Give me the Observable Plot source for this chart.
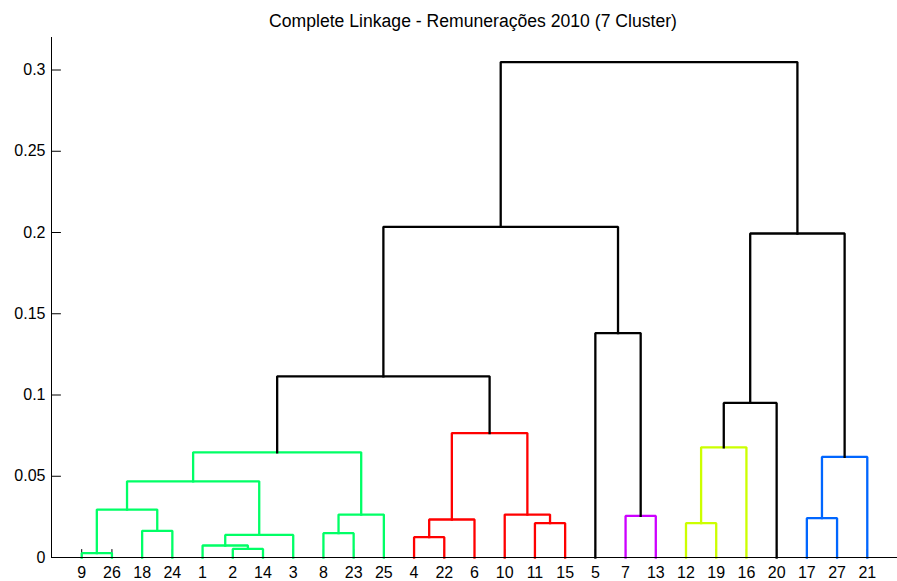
<!DOCTYPE html>
<html>
<head>
<meta charset="utf-8">
<script src="https://cdn.jsdelivr.net/npm/d3@7"></script>
<script src="https://cdn.jsdelivr.net/npm/@observablehq/plot@0.6"></script>
<style>
  html, body { margin: 0; padding: 0; background: #fff; overflow: hidden; }
  #wrap { position: relative; width: 897px; height: 581px; overflow: hidden; background: #fff; }
  #title {
    position: absolute; top: 12.8px; left: 473px; transform: translateX(-50%);
    white-space: nowrap; font-family: "Liberation Sans", Arial, Helvetica, sans-serif;
    font-size: 17.6px; line-height: 17.6px; color: #000;
  }
  #chart svg { display: block; }
</style>
</head>
<body>
<div id="wrap">
  <div id="chart"></div>
  <div id="title">Complete Linkage - Remunerações 2010 (7 Cluster)</div>
</div>
<script>
// Leaf labels in dendrogram order (left to right)
const leafOrder = [9, 26, 18, 24, 1, 2, 14, 3, 8, 23, 25, 4, 22, 6, 10, 11, 15, 5, 7, 13, 12, 19, 16, 20, 17, 27, 21];

// Linkage (MATLAB style): internal node ids are 28, 29, ... in merge order
const mergeLeft   = [9, 2, 1, 4, 3, 8, 18, 11, 12, 6, 17, 7, 10, 25, 28, 42, 21, 43, 16, 37, 20, 45, 5, 48, 49, 52];
const mergeRight  = [26, 14, 29, 22, 30, 23, 24, 15, 19, 31, 27, 13, 35, 33, 34, 32, 38, 41, 36, 40, 46, 47, 39, 44, 50, 51];
const mergeHeight = [0.0027, 0.0053, 0.0074, 0.0125, 0.0139, 0.0150, 0.0164, 0.0211, 0.0211, 0.0234, 0.0242, 0.0256, 0.0264, 0.0264, 0.0295, 0.0469, 0.0619, 0.0647, 0.0678, 0.0766, 0.0951, 0.1115, 0.1381, 0.1994, 0.2035, 0.3049];
const mergeCluster = ["green", "green", "green", "red", "green", "green", "green", "red", "yellow", "red", "blue", "magenta", "red", "green", "green", "green", "blue", "green", "yellow", "red", "above", "above", "above", "above", "above", "above"];

const clusterNames = ["green", "red", "yellow", "blue", "magenta", "above"];
const clusterColors = ["#00FF66", "#FF0000", "#CCFF00", "#0066FF", "#CC00FF", "#000000"];

const yTicks = [0, 0.05, 0.1, 0.15, 0.2, 0.25, 0.3];

// ---- build dendrogram geometry in data units ----
const nLeaves = leafOrder.length;
const nodeX = new Map();
const nodeH = new Map();
leafOrder.forEach((leaf, i) => { nodeX.set(leaf, i + 1); nodeH.set(leaf, 0); });
const segments = [];
mergeLeft.forEach((a, k) => {
  const b = mergeRight[k];
  const id = nLeaves + 1 + k;
  const h = mergeHeight[k];
  let xa = nodeX.get(a), xb = nodeX.get(b), ha = nodeH.get(a), hb = nodeH.get(b);
  if (xa > xb) { [xa, xb] = [xb, xa]; [ha, hb] = [hb, ha]; }
  nodeX.set(id, (xa + xb) / 2);
  nodeH.set(id, h);
  const c = mergeCluster[k];
  segments.push({id, cluster: c, x: xa, y: ha});
  segments.push({id, cluster: c, x: xa, y: h});
  segments.push({id, cluster: c, x: xb, y: h});
  segments.push({id, cluster: c, x: xb, y: hb});
});

const leaves = leafOrder.map((label, i) => ({label, pos: i + 1}));
const tickShape = { draw(context, l) { context.moveTo(0, 0); context.lineTo(0, -l); } };
const font = "'Liberation Sans', Arial, Helvetica, sans-serif";

const chart = Plot.plot({
  width: 897,
  height: 581,
  marginTop: 37,
  marginBottom: 24,
  marginLeft: 51,
  marginRight: 0,
  x: {domain: [0, nLeaves + 1], axis: null},
  y: {domain: [0, 0.32], axis: null},
  color: {domain: clusterNames, range: clusterColors},
  style: {fontFamily: font, fontSize: "16px", background: "white", maxWidth: "none", color: "black"},
  marks: [
    Plot.vector(leaves, {x: "pos", y: 0, length: 8, rotate: 0, anchor: "start", shape: tickShape, stroke: "black", strokeWidth: 1}),
    Plot.line(segments, {x: "x", y: "y", z: "id", stroke: "cluster", strokeWidth: 2.3, strokeLinejoin: "miter", strokeLinecap: "square"}),
    Plot.vector(yTicks, {x: 0, y: d => d, length: 9, rotate: 90, anchor: "start", shape: tickShape, stroke: "black", strokeWidth: 1}),
    Plot.ruleY([0], {stroke: "black", strokeWidth: 1}),
    Plot.ruleX([0], {stroke: "black", strokeWidth: 1}),
    Plot.text(yTicks, {x: 0, y: d => d, text: d => d3.format("~g")(d), textAnchor: "end", dx: -6, fontSize: 16, fill: "black"}),
    Plot.text(leaves, {x: "pos", y: 0, text: d => String(d.label), dy: 15, fontSize: 16, fill: "black"})
  ]
});
document.getElementById("chart").appendChild(chart);
</script>
</body>
</html>
